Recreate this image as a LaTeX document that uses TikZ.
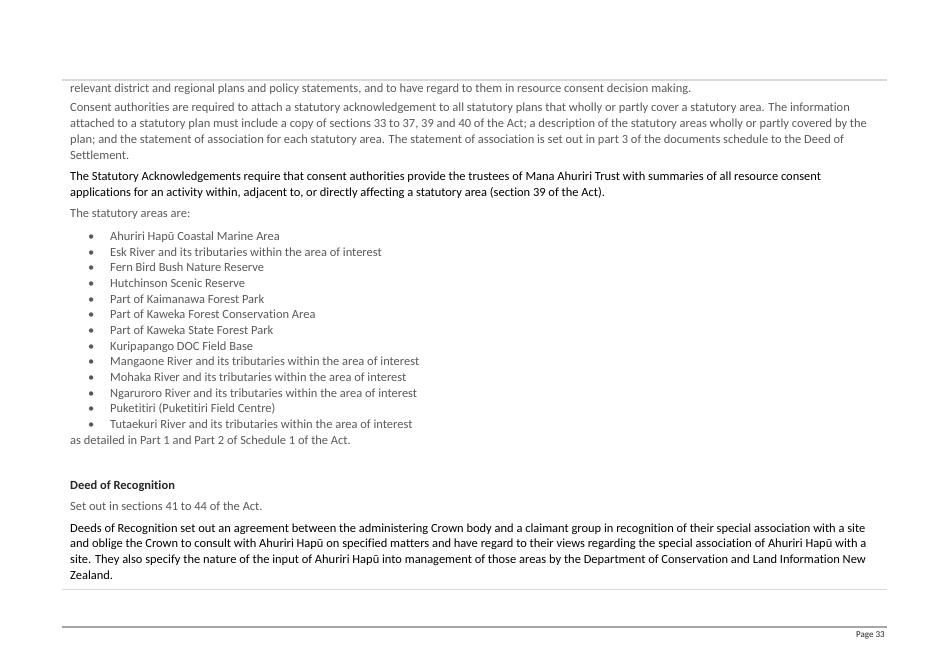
\documentclass[tikz,border=0pt]{standalone}
\usepackage{fontspec}
\setmainfont{Carlito}[Ligatures=NoCommon]
\usepackage{tikz}
\usetikzlibrary{positioning}
\definecolor{bodygrey}{HTML}{595959}
\definecolor{headdark}{HTML}{262626}
\definecolor{rulelight}{HTML}{D9D9D9}
\definecolor{rulemid}{HTML}{A6A6A6}
\tikzset{
	para/.style={anchor=base west, inner sep=0pt, align=left,
		font=\fontsize{11.05pt}{13.9pt}\selectfont},
	greytext/.style={para, text=bodygrey},
	blacktext/.style={para, text=black}
}
\newcommand{\areaitem}[1]{\makebox[19.5pt][l]{\textbullet}#1}

\begin{document}
\begin{tikzpicture}[x=0.8871pt, y=-0.8871pt]
	\useasboundingbox (0,0) rectangle (949,671);
	% rules
	\draw [rulelight, line width=0.9pt] (62,80) -- (887,80);
	\draw [rulelight, line width=0.9pt] (62,589) -- (887,589);
	\draw [rulemid, line width=1.2pt] (62,627) -- (887,627);
	% statutory acknowledgement text (base = last line)
	\draw [greytext] (70,92) node (relevant) {relevant district and regional plans and policy statements, and to have regard to them in resource consent decision making.};
	\draw [greytext] (70,159) node (consent) {Consent authorities are required to attach a statutory acknowledgement to all statutory plans that wholly or partly cover a statutory area. The information\\
		attached to a statutory plan must include a copy of sections 33 to 37, 39 and 40 of the Act; a description of the statutory areas wholly or partly covered by the\\
		plan; and the statement of association for each statutory area. The statement of association is set out in part 3 of the documents schedule to the Deed of\\
		Settlement.};
	\draw [blacktext] (70,196) node (summaries) {The Statutory Acknowledgements require that consent authorities provide the trustees of Mana Ahuriri Trust with summaries of all resource consent\\
		applications for an activity within, adjacent to, or directly affecting a statutory area (section 39 of the Act).};
	\draw [greytext] (70,217) node (areas) {The statutory areas are:};
	\draw [greytext] (88,428.5) node (arealist) {\areaitem{Ahuriri Hapū Coastal Marine Area}\\
		\areaitem{Esk River and its tributaries within the area of interest}\\
		\areaitem{Fern Bird Bush Nature Reserve}\\
		\areaitem{Hutchinson Scenic Reserve}\\
		\areaitem{Part of Kaimanawa Forest Park}\\
		\areaitem{Part of Kaweka Forest Conservation Area}\\
		\areaitem{Part of Kaweka State Forest Park}\\
		\areaitem{Kuripapango DOC Field Base}\\
		\areaitem{Mangaone River and its tributaries within the area of interest}\\
		\areaitem{Mohaka River and its tributaries within the area of interest}\\
		\areaitem{Ngaruroro River and its tributaries within the area of interest}\\
		\areaitem{Puketitiri (Puketitiri Field Centre)}\\
		\areaitem{Tutaekuri River and its tributaries within the area of interest}};
	\draw [greytext] (70,444) node (detailed) {as detailed in Part 1 and Part 2 of Schedule 1 of the Act.};
	% deed of recognition
	\draw [para, text=headdark, font=\fontsize{11.05pt}{13.9pt}\selectfont\bfseries] (70,489) node (deedhead) {Deed of Recognition};
	\draw [greytext] (70,510) node (setout) {Set out in sections 41 to 44 of the Act.};
	\draw [blacktext] (70,579) node (deeds) {Deeds of Recognition set out an agreement between the administering Crown body and a claimant group in recognition of their special association with a site\\
		and oblige the Crown to consult with Ahuriri Hapū on specified matters and have regard to their views regarding the special association of Ahuriri Hapū with a\\
		site. They also specify the nature of the input of Ahuriri Hapū into management of those areas by the Department of Conservation and Land Information New\\
		Zealand.};
	% footer
	\draw [anchor=base east, inner sep=0pt, text=headdark, font=\fontsize{8pt}{9.6pt}\selectfont] (885,637.5) node (pagenum) {Page 33};
\end{tikzpicture}
\end{document}
